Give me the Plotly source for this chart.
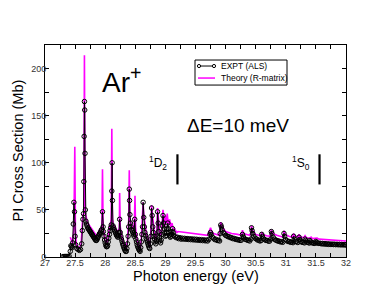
import plotly.graph_objects as go

# ---------------- data ----------------
# experiment (ALS): (photon energy eV, cross section Mb)
expt_points = [
    (27.30, 0.5), (27.32, 0.5), (27.34, 0.5), (27.36, 0.5), (27.38, 0.5), (27.40, 1), (27.42, 6), (27.43, 12),
    (27.44, 11), (27.45, 10), (27.46, 15), (27.47, 35), (27.48, 58), (27.49, 48), (27.50, 22), (27.51, 13),
    (27.53, 9), (27.55, 8), (27.57, 7), (27.59, 8), (27.61, 14), (27.62, 28), (27.63, 40), (27.64, 46),
    (27.645, 80), (27.65, 128), (27.655, 165), (27.66, 156), (27.665, 110), (27.67, 50), (27.68, 38),
    (27.69, 35), (27.70, 33), (27.71, 31), (27.72, 30), (27.73, 29), (27.74, 28), (27.75, 27), (27.76, 26),
    (27.77, 25), (27.78, 24), (27.79, 23), (27.80, 22), (27.81, 21), (27.82, 20), (27.83, 19), (27.84, 18),
    (27.85, 17.5), (27.86, 18), (27.87, 19.5), (27.88, 21), (27.89, 22.5), (27.90, 24), (27.91, 25),
    (27.92, 26), (27.93, 27.5), (27.94, 29), (27.955, 48), (27.965, 32), (27.97, 27), (27.98, 22),
    (27.99, 18), (28.00, 15), (28.01, 12.5), (28.02, 11), (28.03, 11), (28.04, 12), (28.05, 16),
    (28.06, 20), (28.07, 24), (28.08, 28), (28.09, 31), (28.10, 34), (28.11, 70), (28.115, 100), (28.12, 60),
    (28.13, 33), (28.14, 31), (28.15, 29), (28.16, 27.5), (28.17, 26), (28.18, 24.5), (28.19, 23),
    (28.20, 22), (28.21, 21), (28.22, 23), (28.23, 26), (28.24, 40), (28.25, 26), (28.26, 22), (28.27, 19),
    (28.28, 16.5), (28.29, 14), (28.30, 12), (28.31, 10), (28.32, 8.5), (28.33, 7), (28.34, 6), (28.35, 6),
    (28.36, 9), (28.37, 14), (28.38, 22), (28.39, 32), (28.40, 72), (28.405, 60), (28.41, 45), (28.42, 36),
    (28.43, 32), (28.44, 29), (28.45, 27.5), (28.46, 26), (28.47, 24), (28.48, 22), (28.49, 40), (28.50, 24),
    (28.51, 19), (28.52, 16), (28.53, 13), (28.54, 11), (28.55, 9.5), (28.56, 8), (28.57, 7), (28.58, 6),
    (28.59, 10), (28.60, 16), (28.61, 24), (28.62, 32), (28.63, 58), (28.64, 42), (28.65, 32), (28.66, 26),
    (28.67, 23), (28.68, 20), (28.69, 18), (28.70, 16), (28.71, 14), (28.72, 12), (28.73, 10), (28.74, 9),
    (28.75, 14), (28.76, 22), (28.77, 52), (28.78, 44), (28.79, 32), (28.80, 26), (28.81, 22), (28.82, 19),
    (28.83, 16), (28.84, 14), (28.85, 17), (28.86, 22), (28.87, 48), (28.88, 36), (28.89, 27), (28.90, 21),
    (28.91, 17), (28.92, 15), (28.93, 18), (28.94, 24), (28.95, 33), (28.96, 44), (28.97, 36), (28.98, 30),
    (28.99, 25), (29.00, 22), (29.01, 23), (29.02, 26), (29.03, 30), (29.04, 36), (29.05, 30), (29.06, 26),
    (29.07, 23), (29.08, 21), (29.09, 22), (29.10, 24), (29.11, 27), (29.12, 30), (29.13, 26), (29.14, 23),
    (29.16, 21.5), (29.18, 20.5), (29.20, 21), (29.22, 19.5), (29.24, 20.5), (29.26, 19), (29.28, 20),
    (29.30, 19), (29.32, 19.8), (29.34, 18.8), (29.36, 19.6), (29.38, 18.6), (29.40, 19.4), (29.42, 18.4),
    (29.44, 19.2), (29.46, 18.2), (29.48, 19), (29.50, 18), (29.52, 18.8), (29.54, 17.8), (29.56, 18.6),
    (29.58, 17.6), (29.60, 18.4), (29.62, 17.4), (29.64, 18.2), (29.66, 17.2), (29.68, 18), (29.70, 17),
    (29.72, 18.5), (29.74, 24), (29.75, 26), (29.76, 24), (29.78, 21), (29.80, 20), (29.82, 18.5),
    (29.84, 18.8), (29.86, 17.5), (29.88, 17.8), (29.90, 17), (29.91, 25), (29.92, 34), (29.93, 32),
    (29.94, 29), (29.96, 26), (29.98, 24.5), (30.00, 23), (30.02, 22.5), (30.04, 21.5), (30.06, 21.5),
    (30.08, 20.5), (30.10, 20.5), (30.12, 19.5), (30.14, 19.8), (30.16, 18.8), (30.18, 19), (30.20, 18.2),
    (30.22, 18.4), (30.24, 17.6), (30.26, 17.8), (30.28, 24), (30.29, 22), (30.30, 20.5), (30.32, 19),
    (30.34, 18.6), (30.36, 17.8), (30.38, 17.8), (30.40, 17), (30.42, 19), (30.43, 31), (30.44, 28),
    (30.45, 25), (30.47, 22), (30.49, 20), (30.51, 19.2), (30.53, 18), (30.55, 18), (30.57, 17),
    (30.59, 17.5), (30.60, 24), (30.61, 22), (30.63, 19.5), (30.65, 18.5), (30.67, 17.6), (30.69, 17.6),
    (30.71, 16.8), (30.73, 16.8), (30.75, 19), (30.76, 27), (30.77, 25), (30.79, 21), (30.81, 19),
    (30.83, 18), (30.85, 17.6), (30.87, 16.8), (30.89, 16.9), (30.91, 16), (30.93, 16.3), (30.95, 15.6),
    (30.97, 25), (30.98, 22), (31.00, 18.5), (31.02, 17.2), (31.04, 16.4), (31.06, 16.4), (31.08, 15.6),
    (31.10, 15.8), (31.12, 15.2), (31.13, 22), (31.14, 19), (31.16, 16.5), (31.18, 16.2), (31.20, 15.4),
    (31.22, 21), (31.23, 18.5), (31.25, 16.5), (31.27, 15.6), (31.29, 15.6), (31.31, 15), (31.32, 19),
    (31.33, 17.5), (31.35, 15.8), (31.37, 15.4), (31.39, 14.8), (31.40, 17.5), (31.41, 16.2), (31.43, 15.2),
    (31.45, 15), (31.47, 14.4), (31.49, 14.8), (31.50, 16.5), (31.51, 15.4), (31.53, 14.8), (31.55, 14.4),
    (31.57, 14.6), (31.59, 14), (31.61, 14.4), (31.63, 13.8), (31.65, 14.2), (31.67, 13.6), (31.69, 14),
    (31.71, 13.4), (31.73, 13.8), (31.75, 13.3), (31.77, 13.7), (31.79, 13.2), (31.81, 13.6), (31.83, 13.1),
    (31.85, 13.5), (31.87, 13), (31.89, 13.4), (31.91, 12.9), (31.93, 13.3), (31.95, 12.8), (31.97, 13.2),
    (31.99, 12.8), (32.00, 13),
]

# theory (R-matrix): (photon energy eV, cross section Mb)
theory_points = [
    (27.42, 21), (27.44, 16), (27.46, 14), (27.48, 30), (27.495, 117), (27.505, 30), (27.52, 14), (27.54, 10),
    (27.56, 10), (27.58, 11), (27.60, 13), (27.62, 35), (27.63, 45), (27.645, 46), (27.655, 214), (27.665, 48),
    (27.68, 42), (27.70, 38), (27.72, 35), (27.74, 33), (27.76, 31), (27.78, 29), (27.80, 28), (27.82, 25),
    (27.84, 23), (27.86, 22), (27.88, 25), (27.90, 28), (27.92, 30), (27.945, 32), (27.955, 93), (27.965, 32),
    (27.98, 24), (28.00, 18), (28.02, 15), (28.04, 17), (28.06, 27), (28.08, 36), (28.10, 40), (28.11, 136),
    (28.12, 40), (28.14, 34), (28.16, 31), (28.18, 28), (28.20, 27), (28.22, 29), (28.235, 30), (28.24, 68),
    (28.25, 32), (28.27, 24), (28.29, 18), (28.31, 13), (28.33, 10), (28.35, 9), (28.37, 18), (28.39, 38),
    (28.40, 92), (28.41, 42), (28.43, 34), (28.45, 31), (28.47, 30), (28.485, 38), (28.495, 65), (28.505, 30),
    (28.52, 22), (28.54, 15), (28.56, 10), (28.58, 7), (28.60, 20), (28.62, 40), (28.63, 58), (28.64, 45),
    (28.66, 32), (28.68, 27), (28.70, 20), (28.72, 15), (28.74, 10), (28.76, 30), (28.77, 55), (28.78, 48),
    (28.80, 32), (28.82, 24), (28.84, 18), (28.86, 30), (28.87, 52), (28.88, 40), (28.90, 28), (28.92, 22),
    (28.94, 30), (28.96, 50), (28.97, 40), (28.99, 32), (29.00, 44), (29.02, 36), (29.03, 46), (29.05, 34),
    (29.07, 40), (29.09, 32), (29.11, 36), (29.13, 30), (29.15, 30), (29.17, 27), (29.19, 26), (29.21, 27),
    (29.70, 23), (29.72, 26), (29.75, 31), (29.77, 27), (29.80, 25), (29.85, 24), (29.89, 23), (29.91, 30),
    (29.92, 37), (29.94, 32), (29.97, 29), (30.00, 27), (30.05, 26), (30.10, 25), (30.20, 24), (30.26, 23),
    (30.28, 28.5), (30.30, 25), (30.35, 24), (30.40, 23), (30.42, 26), (30.43, 33), (30.45, 28), (30.50, 24),
    (30.55, 23), (30.59, 22), (30.60, 26.5), (30.62, 24), (30.68, 22.5), (30.74, 22), (30.76, 29), (30.78, 25),
    (30.85, 23), (30.93, 21.5), (30.96, 21), (30.97, 28), (30.99, 24), (31.05, 22), (31.11, 21), (31.13, 25),
    (31.15, 22), (31.20, 21), (31.22, 24), (31.24, 21.5), (31.30, 20.5), (31.32, 22.5), (31.34, 20.5),
    (31.40, 20), (31.42, 21), (31.44, 19.5), (31.50, 19.5), (31.52, 20), (31.55, 19), (31.70, 18.5),
    (31.85, 18), (32.00, 17),
]

expt_energy = [p[0] for p in expt_points]
expt_xs = [p[1] for p in expt_points]
theory_energy = [p[0] for p in theory_points]
theory_xs = [p[1] for p in theory_points]

threshold_energy = [29.2, 31.56]
threshold_labels = ["<sup>1</sup>D<sub>2</sub>", "<sup>1</sup>S<sub>0</sub>"]
threshold_bar = [77, 109]

legend_names = ["EXPT (ALS)", "Theory (R-matrix)"]
x_title = "Photon energy (eV)"
y_title = "PI Cross Section (Mb)"

FONT = "Liberation Sans, Arial, sans-serif"
MAGENTA = "#ff00ff"

fig = go.Figure()

# grey fill under the experiment
fig.add_trace(go.Scatter(x=expt_energy, y=expt_xs, mode="lines", fill="tozeroy",
                         fillcolor="#d9d9d9", line=dict(width=0), showlegend=False,
                         hoverinfo="skip"))

fig.add_trace(go.Scatter(x=theory_energy, y=theory_xs, mode="lines",
                         name=legend_names[1], showlegend=False,
                         line=dict(color=MAGENTA, width=1.6)))

fig.add_trace(go.Scatter(x=expt_energy, y=expt_xs, mode="lines+markers",
                         name=legend_names[0], showlegend=False,
                         line=dict(color="black", width=1),
                         marker=dict(symbol="circle-open", size=4.5, color="black",
                                     line=dict(width=1, color="black"))))

# threshold bars
bx, by = [], []
for e in threshold_energy:
    bx += [e, e, None]
    by += [threshold_bar[0], threshold_bar[1], None]
fig.add_trace(go.Scatter(x=bx, y=by, mode="lines", line=dict(color="black", width=2.2),
                         showlegend=False, hoverinfo="skip"))

for e, lab in zip(threshold_energy, threshold_labels):
    fig.add_annotation(x=e, y=100, xref="x", yref="y", text=lab, showarrow=False,
                       xanchor="right", xshift=-8, font=dict(family=FONT, size=12, color="black"))

fig.add_annotation(x=28.27, y=188, text="Ar<sup>+</sup>", showarrow=False,
                   font=dict(family=FONT, size=28, color="black"))
fig.add_annotation(x=30.21, y=139.5, text="\u0394E=10 meV", showarrow=False,
                   font=dict(family=FONT, size=19, color="black"))

# ---- hand-made legend box (paper coordinates) ----
L, R, B, T = 45, 346, 256.7, 45  # plot area in pixels


def px(x):
    return (x - L) / (R - L)


def py(y):
    return (B - y) / (B - T)


fig.add_shape(type="rect", xref="paper", yref="paper", x0=px(195), x1=px(287), y0=py(85), y1=py(60),
              line=dict(color="black", width=1), fillcolor="white", layer="above")
fig.add_shape(type="line", xref="paper", yref="paper", x0=px(199), x1=px(214), y0=py(66), y1=py(66),
              line=dict(color="black", width=1), layer="above")
for cx in (199, 214):
    fig.add_shape(type="circle", xref="paper", yref="paper", x0=px(cx - 1.6), x1=px(cx + 1.6),
                  y0=py(66 + 1.6), y1=py(66 - 1.6), line=dict(color="black", width=1),
                  fillcolor="white", layer="above")
fig.add_shape(type="line", xref="paper", yref="paper", x0=px(198), x1=px(215), y0=py(78), y1=py(78),
              line=dict(color=MAGENTA, width=1.5), layer="above")
for yy, name in zip((66, 78), legend_names):
    fig.add_annotation(x=px(219), y=py(yy), xref="paper", yref="paper", text=name, showarrow=False,
                       xanchor="left", yanchor="middle", font=dict(family=FONT, size=8.5, color="black"))

# axis titles
fig.add_annotation(x=0.5, y=py(276), xref="paper", yref="paper", text=x_title, showarrow=False,
                   xanchor="center", yanchor="middle", font=dict(family=FONT, size=14.5, color="black"))
fig.add_annotation(x=px(17.5), y=0.5, xref="paper", yref="paper", text=y_title, showarrow=False,
                   textangle=-90, xanchor="center", yanchor="middle",
                   font=dict(family=FONT, size=14.5, color="black"))

axis_common = dict(showline=True, linecolor="black", linewidth=1, mirror="allticks",
                   ticks="inside", ticklen=4, tickcolor="black", showgrid=False, automargin=False,
                   zeroline=False, tickfont=dict(family=FONT, size=9, color="#333333"))

fig.update_xaxes(range=[27, 32], dtick=0.5, tick0=27, ticklabelstandoff=-3,
                 minor=dict(dtick=0.25, ticks="inside", ticklen=4, tickcolor="black", showgrid=False),
                 **axis_common)
fig.update_yaxes(range=[0, 225], dtick=50, tick0=0, ticklabelstandoff=-4,
                 minor=dict(dtick=25, ticks="inside", ticklen=4, tickcolor="black", showgrid=False),
                 **axis_common)

fig.update_layout(
    width=390, height=302,
    margin=dict(l=45, r=44, t=45, b=45.3, autoexpand=False),
    paper_bgcolor="white", plot_bgcolor="white",
    font=dict(family=FONT, color="black"),
    showlegend=False,
)

fig.write_html("out.html", config={"displayModeBar": False},
               post_script="document.documentElement.style.margin='0';"
                           "document.body.style.margin='0';document.body.style.padding='0';")
